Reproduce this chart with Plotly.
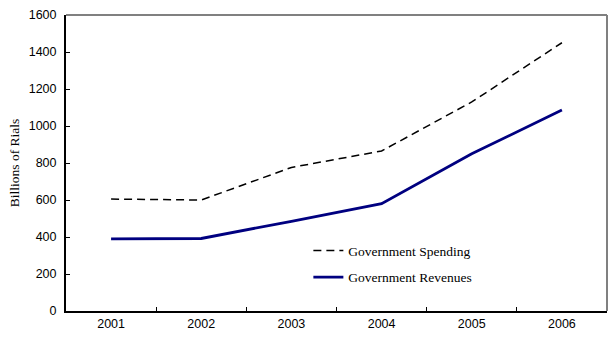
import plotly.graph_objects as go

years = ["2001", "2002", "2003", "2004", "2005", "2006"]
spending = [605, 600, 776, 865, 1130, 1450]
revenues = [390, 392, 485, 580, 850, 1086]
y_ticks = [0, 200, 400, 600, 800, 1000, 1200, 1400, 1600]

sans = "Liberation Sans, Arial, sans-serif"
serif = "Liberation Serif, Times New Roman, serif"

fig = go.Figure()
fig.add_trace(go.Scatter(
    x=years, y=spending, mode="lines", name="Government Spending",
    line=dict(color="black", width=1.5, dash="8px,5px"), legendgroup="a",
))
fig.add_trace(go.Scatter(
    x=years, y=revenues, mode="lines", name="Government Revenues",
    line=dict(color="#000080", width=2.8), legendgroup="b",
))

fig.update_layout(
    width=615, height=340,
    margin=dict(l=66, r=8, t=12, b=29),
    paper_bgcolor="white", plot_bgcolor="white",
    showlegend=True,
    legend=dict(
        x=0.448, y=0.256, xanchor="left", yanchor="top",
        bgcolor="rgba(0,0,0,0)",
        font=dict(family=serif, size=13.5, color="black"),
        traceorder="grouped", tracegroupgap=6,
    ),
    xaxis=dict(
        type="category", range=[-0.5, 5.5], tickson="boundaries",
        ticks="inside", ticklen=4, tickcolor="black",
        showline=True, linecolor="black", linewidth=2,
        showgrid=False, zeroline=False,
        tickfont=dict(family=sans, size=12.5, color="black"),
    ),
    yaxis=dict(
        range=[0, 1600], tickvals=y_ticks,
        ticks="inside", ticklen=4, tickcolor="black",
        ticklabelstandoff=5,
        showline=True, linecolor="black", linewidth=2,
        showgrid=False, zeroline=False,
        tickfont=dict(family=sans, size=12.5, color="black"),
        title=dict(text="Billions of Rials", standoff=6,
                   font=dict(family=serif, size=13.5, color="black")),
    ),
    shapes=[
        dict(type="line", xref="paper", yref="paper", x0=0, x1=1, y0=1, y1=1,
             line=dict(color="#808080", width=2)),
        dict(type="line", xref="paper", yref="paper", x0=1, x1=1, y0=0, y1=1,
             line=dict(color="#808080", width=2)),
    ],
)

fig.write_html("out.html")
